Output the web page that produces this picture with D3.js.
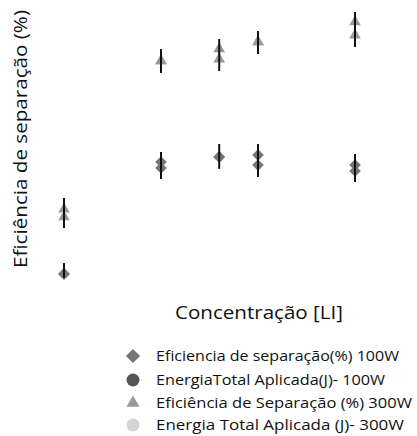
<!DOCTYPE html>
<html>
<head>
<meta charset="utf-8">
<script src="https://cdn.jsdelivr.net/npm/d3@7"></script>
<style>
  html, body { margin: 0; padding: 0; background: #fff; }
  svg { display: block; font-family: "Comic Sans MS", "Open Sans", "DejaVu Sans", sans-serif; }
</style>
</head>
<body>
<svg id="chart" width="417" height="436"></svg>
<script>
// Concentration levels (x categories)
const concentrations = [0.1, 0.6, 0.9, 1.1, 1.6];

// Eficiencia de separação (%) 100W — two replicates per concentration
const ef100Rep1 = [8.7, 46.0, 47.7, 48.3, 45.0];
const ef100Rep2 = [8.7, 44.0, 47.7, 45.0, 43.0];
const ef100Low  = [7.3, 40.3, 43.7, 41.0, 39.3];
const ef100High = [12.3, 49.3, 52.0, 52.0, 48.7];

// Eficiência de Separação (%) 300W — two replicates per concentration
const ef300Rep1 = [30.3, 79.7, 83.7, 86.0, 92.7];
const ef300Rep2 = [27.7, 79.7, 80.3, 86.0, 88.3];
const ef300Low  = [24.0, 75.7, 76.3, 82.0, 84.3];
const ef300High = [34.0, 83.7, 87.0, 89.7, 96.0];

// Legend labels
const legendLabels = [
  "Eficiencia de separação(%) 100W",
  "EnergiaTotal Aplicada(J)- 100W",
  "Eficiência de Separação (%) 300W",
  "Energia Total Aplicada (J)- 300W"
];
const yTitle = "Eficiência de separação (%)";
const xTitle = "Concentração [LI]";

const svg = d3.select("#chart");

const x = d3.scaleLinear().domain([0.1, 1.6]).range([64, 355]);
const y = d3.scaleLinear().domain([0, 100]).range([300, 0]);

const colDiamond = "#767676";
const colCircleDark = "#555555";
const colTriangle = "#999999";
const colCircleLight = "#d4d4d4";

const diamondPath = d3.symbol().type(d3.symbolSquare).size(68)();
const trianglePath = d3.symbol().type(d3.symbolTriangle).size(58)();

const g = svg.append("g");

// markers: diamonds (100W)
const diamonds = [];
concentrations.forEach((c, i) => {
  diamonds.push({c, v: ef100Rep1[i]});
  diamonds.push({c, v: ef100Rep2[i]});
});
g.selectAll("path.diamond").data(diamonds).enter().append("path")
  .attr("class", "diamond")
  .attr("d", diamondPath)
  .attr("fill", colDiamond)
  .attr("transform", d => `translate(${x(d.c)},${y(d.v)}) rotate(45)`);

// markers: triangles (300W)
const triangles = [];
concentrations.forEach((c, i) => {
  triangles.push({c, v: ef300Rep1[i]});
  triangles.push({c, v: ef300Rep2[i]});
});
g.selectAll("path.tri").data(triangles).enter().append("path")
  .attr("class", "tri")
  .attr("d", trianglePath)
  .attr("fill", colTriangle)
  .attr("transform", d => `translate(${x(d.c)},${y(d.v)})`);

// error bars
const bars = concentrations.map((c, i) => ({c, lo: ef100Low[i], hi: ef100High[i]}))
  .concat(concentrations.map((c, i) => ({c, lo: ef300Low[i], hi: ef300High[i]})));
g.selectAll("line.err").data(bars).enter().append("line")
  .attr("class", "err")
  .attr("x1", d => x(d.c)).attr("x2", d => x(d.c))
  .attr("y1", d => y(d.hi)).attr("y2", d => y(d.lo))
  .attr("stroke", "#111").attr("stroke-width", 2);

// axis titles
svg.append("text")
  .attr("transform", "translate(27,139) rotate(-90)")
  .attr("text-anchor", "middle")
  .attr("font-size", 18)
  .attr("fill", "#111")
  .attr("textLength", 258)
  .attr("lengthAdjust", "spacingAndGlyphs")
  .text(yTitle);

svg.append("text")
  .attr("x", 259).attr("y", 319)
  .attr("text-anchor", "middle")
  .attr("font-size", 18)
  .attr("fill", "#111")
  .attr("textLength", 168)
  .attr("lengthAdjust", "spacingAndGlyphs")
  .text(xTitle);

// legend
const legendY = [356, 380, 403, 425];
const legendLen = [243, 229, 256, 248];
const leg = svg.append("g");
legendLabels.forEach((lab, i) => {
  const cy = legendY[i];
  if (i === 0) {
    leg.append("path").attr("d", d3.symbol().type(d3.symbolSquare).size(100)())
      .attr("fill", colDiamond).attr("transform", `translate(133,${cy}) rotate(45)`);
  } else if (i === 1) {
    leg.append("circle").attr("cx", 133).attr("cy", cy).attr("r", 6.5).attr("fill", colCircleDark);
  } else if (i === 2) {
    leg.append("path").attr("d", d3.symbol().type(d3.symbolTriangle).size(75)())
      .attr("fill", colTriangle).attr("transform", `translate(133,${cy})`);
  } else {
    leg.append("circle").attr("cx", 133).attr("cy", cy).attr("r", 6.5).attr("fill", colCircleLight);
  }
  leg.append("text")
    .attr("x", 156).attr("y", cy + 5)
    .attr("font-size", 15)
    .attr("fill", "#111")
    .attr("textLength", legendLen[i])
    .attr("lengthAdjust", "spacingAndGlyphs")
    .text(lab);
});
</script>
</body>
</html>
